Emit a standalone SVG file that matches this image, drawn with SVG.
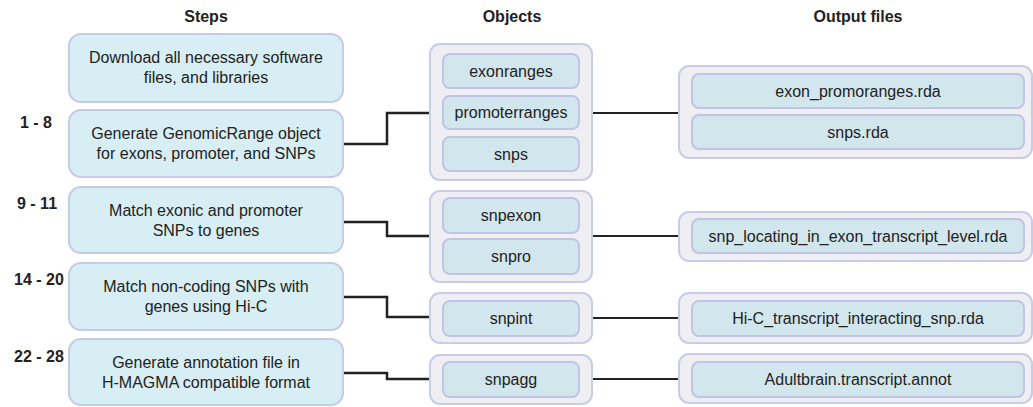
<svg xmlns="http://www.w3.org/2000/svg" width="1033" height="407" viewBox="0 0 1033 407">
<style>
text{font-family:"Liberation Sans",Arial,sans-serif;fill:#222;text-anchor:middle;dominant-baseline:central}
.h{font-size:16px;font-weight:bold}
.n{font-size:16px;font-weight:bold;text-anchor:start}
.t{font-size:16px}
.step{fill:#d8eef5;stroke:#c6c9e8;stroke-width:2}
.grp{fill:#efeff3;stroke:#c9cbe9;stroke-width:2}
.in{fill:#d2e6ee;stroke:#c1c4e4;stroke-width:2}
.c{fill:none;stroke:#222;stroke-width:2.5}
.c2{fill:none;stroke:#222;stroke-width:2.2}
</style>
<rect width="1033" height="407" fill="#fff"/>
<g id="headers">
<text class="h" x="206" y="16">Steps</text>
<text class="h" x="512" y="16">Objects</text>
<text class="h" x="858" y="16">Output files</text>
</g>
<g id="numbers">
<text class="n" x="20" y="122">1 - 8</text>
<text class="n" x="17" y="203">9 - 11</text>
<text class="n" x="14" y="279">14 - 20</text>
<text class="n" x="14" y="356">22 - 28</text>
</g>
<g id="connectors">
<path class="c" d="M343,144 H387 V113 H430"/>
<path class="c" d="M343,222 H387 V236 H430"/>
<path class="c" d="M343,297 H387 V317 H430"/>
<path class="c" d="M343,373 H387 V379 H430"/>
<path class="c2" d="M592,113 H679"/>
<path class="c2" d="M592,236 H679"/>
<path class="c2" d="M592,318 H679"/>
<path class="c2" d="M592,379 H679"/>
</g>
<g id="step0">
<rect class="step" x="69" y="34" width="274" height="68" rx="12"/>
<text class="t" x="206" y="57">Download all necessary software</text>
<text class="t" x="206" y="77">files, and libraries</text>
</g>
<g id="step1">
<rect class="step" x="69" y="110" width="274" height="67" rx="12"/>
<text class="t" x="206" y="133">Generate GenomicRange object</text>
<text class="t" x="206" y="153">for exons, promoter, and SNPs</text>
</g>
<g id="step2">
<rect class="step" x="69" y="187" width="274" height="66" rx="12"/>
<text class="t" x="206" y="210">Match exonic and promoter</text>
<text class="t" x="206" y="230">SNPs to genes</text>
</g>
<g id="step3">
<rect class="step" x="69" y="263" width="274" height="67" rx="12"/>
<text class="t" x="206" y="286">Match non-coding SNPs with</text>
<text class="t" x="206" y="306">genes using Hi-C</text>
</g>
<g id="step4">
<rect class="step" x="69" y="339" width="274" height="66" rx="12"/>
<text class="t" x="206" y="362">Generate annotation file in</text>
<text class="t" x="206" y="382">H-MAGMA compatible format</text>
</g>
<g id="objects1">
<rect class="grp" x="430" y="44" width="162" height="136" rx="10"/>
<rect class="in" x="443" y="54" width="136" height="34" rx="7"/>
<text class="t" x="511" y="71">exonranges</text>
<rect class="in" x="443" y="96" width="136" height="33" rx="7"/>
<text class="t" x="511" y="112">promoterranges</text>
<rect class="in" x="443" y="137" width="136" height="34" rx="7"/>
<text class="t" x="511" y="154">snps</text>
</g>
<g id="objects2">
<rect class="grp" x="430" y="191" width="162" height="91" rx="10"/>
<rect class="in" x="443" y="198" width="136" height="35" rx="7"/>
<text class="t" x="511" y="215">snpexon</text>
<rect class="in" x="443" y="239" width="136" height="35" rx="7"/>
<text class="t" x="511" y="256">snpro</text>
</g>
<g id="objects3">
<rect class="grp" x="430" y="293" width="162" height="50" rx="10"/>
<rect class="in" x="443" y="301" width="136" height="35" rx="7"/>
<text class="t" x="511" y="318">snpint</text>
</g>
<g id="objects4">
<rect class="grp" x="430" y="355" width="162" height="49" rx="10"/>
<rect class="in" x="443" y="362" width="136" height="35" rx="7"/>
<text class="t" x="511" y="379">snpagg</text>
</g>
<g id="out1">
<rect class="grp" x="679" y="66" width="353" height="92" rx="10"/>
<rect class="in" x="692" y="74" width="332" height="34" rx="7"/>
<text class="t" x="858" y="91">exon_promoranges.rda</text>
<rect class="in" x="692" y="115" width="332" height="34" rx="7"/>
<text class="t" x="858" y="132">snps.rda</text>
</g>
<g id="out2">
<rect class="grp" x="679" y="212" width="353" height="49" rx="10"/>
<rect class="in" x="692" y="219" width="332" height="34" rx="7"/>
<text class="t" x="858" y="236">snp_locating_in_exon_transcript_level.rda</text>
</g>
<g id="out3">
<rect class="grp" x="679" y="293" width="353" height="50" rx="10"/>
<rect class="in" x="692" y="301" width="332" height="35" rx="7"/>
<text class="t" x="858" y="318">Hi-C_transcript_interacting_snp.rda</text>
</g>
<g id="out4">
<rect class="grp" x="679" y="354" width="353" height="49" rx="10"/>
<rect class="in" x="692" y="362" width="332" height="35" rx="7"/>
<text class="t" x="858" y="379">Adultbrain.transcript.annot</text>
</g>
</svg>
